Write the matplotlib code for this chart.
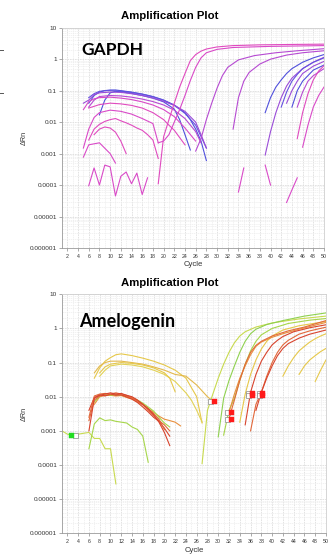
import matplotlib
matplotlib.use("Agg")
import matplotlib.pyplot as plt
from matplotlib.ticker import FixedLocator, NullFormatter
from matplotlib.lines import Line2D
from matplotlib import transforms

# ---------------- shared axis data ----------------
x_ticks = list(range(2, 51, 2))
x_minor = list(range(1, 51))
y_ticks = [1e-6, 1e-5, 1e-4, 1e-3, 1e-2, 1e-1, 1, 10]
y_tick_labels = ["0.000001", "0.00001", "0.0001", "0.001", "0.01", "0.1", "1", "10"]

# ---------------- GAPDH panel data ----------------
g_h1_c = [6, 7, 8, 9, 10, 11, 12, 14, 16, 18, 20, 22, 24, 25, 26, 27, 28]
g_h1_v = [0.04, 0.07, 0.09, 0.1, 0.105, 0.105, 0.1, 0.09, 0.078, 0.065, 0.05, 0.035, 0.02, 0.012, 0.006, 0.0025, 0.0006]
g_h2_c = [6, 7, 8, 9, 10, 12, 14, 16, 18, 20, 22, 24, 26, 27, 28]
g_h2_v = [0.06, 0.08, 0.095, 0.1, 0.1, 0.097, 0.088, 0.077, 0.064, 0.05, 0.034, 0.019, 0.008, 0.0035, 0.0015]
g_h3_c = [8, 9, 10, 11, 12, 14, 16, 18, 20, 22, 23, 24, 25]
g_h3_v = [0.017, 0.05, 0.085, 0.095, 0.092, 0.082, 0.07, 0.058, 0.044, 0.026, 0.012, 0.004, 0.0013]
g_h4_c = [5, 6, 7, 8, 10, 12, 14, 16, 18, 20, 22, 24, 26, 27, 28]
g_h4_v = [0.04, 0.05, 0.075, 0.085, 0.09, 0.088, 0.08, 0.07, 0.058, 0.046, 0.034, 0.022, 0.01, 0.004, 0.0015]
g_h5_c = [6, 7, 8, 10, 12, 14, 16, 18, 20, 22, 24, 26, 27]
g_h5_v = [0.03, 0.05, 0.065, 0.07, 0.068, 0.062, 0.054, 0.045, 0.035, 0.024, 0.013, 0.005, 0.0022]
g_m1_c = [5, 6, 7, 8, 10, 12, 14, 16, 18, 20, 22, 24, 26]
g_m1_v = [0.025, 0.045, 0.055, 0.06, 0.062, 0.058, 0.052, 0.044, 0.035, 0.025, 0.015, 0.0065, 0.0025]
g_m2_c = [6, 8, 10, 12, 14, 16, 18, 20, 21, 22, 24]
g_m2_v = [0.028, 0.036, 0.04, 0.038, 0.034, 0.028, 0.02, 0.012, 0.008, 0.0055, 0.0019]
g_m3_c = [5, 6, 7, 8, 10, 12, 14, 16, 18, 19]
g_m3_v = [0.0015, 0.006, 0.014, 0.02, 0.024, 0.022, 0.018, 0.013, 0.009, 0.0022]
g_m4_c = [6, 7, 8, 9, 10, 11, 12, 13, 14, 15, 16, 17, 18, 19]
g_m4_v = [0.0027, 0.006, 0.0085, 0.0105, 0.012, 0.013, 0.011, 0.0095, 0.008, 0.0065, 0.0055, 0.004, 0.0027, 0.0007]
g_m6_c = [5, 6, 8, 10, 11]
g_m6_v = [0.00077, 0.0019, 0.0022, 0.001, 0.0005]
g_m7_c = [7, 8, 9, 10, 11, 12, 13]
g_m7_v = [0.004, 0.006, 0.007, 0.0065, 0.0048, 0.0025, 0.001]
g_noise_c = [6, 7, 8, 9, 10, 11, 12, 13, 14, 15, 16, 17]
g_noise_v = [9.5e-5, 3.5e-4, 1e-4, 4.3e-4, 3.8e-4, 4.5e-5, 1.9e-4, 2.6e-4, 1.1e-4, 2.4e-4, 5e-5, 1.7e-4]

g_r1_c = [19, 20, 21, 22, 23, 24, 25, 26, 27, 28, 30, 33, 38, 45, 50]
g_r1_v = [1.1e-4, 0.0034, 0.012, 0.04, 0.13, 0.35, 0.9, 1.4, 1.8, 2.1, 2.45, 2.7, 2.85, 2.95, 3.0]
g_r2_c = [19, 20, 21, 22, 23, 24, 25, 26, 27, 28, 30, 33, 40, 50]
g_r2_v = [0.0022, 0.0025, 0.004, 0.01, 0.025, 0.07, 0.21, 0.55, 1.1, 1.6, 2.05, 2.35, 2.55, 2.7]
g_r3_c = [26, 27, 28, 29, 30, 31, 32, 34, 37, 41, 45, 50]
g_r3_v = [0.0012, 0.003, 0.012, 0.04, 0.12, 0.3, 0.55, 0.95, 1.3, 1.6, 1.85, 2.15]
g_r4_c = [33, 34, 35, 36, 38, 40, 43, 46, 50]
g_r4_v = [0.006, 0.06, 0.2, 0.38, 0.7, 1.0, 1.35, 1.6, 1.85]
g_s1_c = [34, 35]
g_s1_v = [6e-5, 3.5e-4]
g_s2_c = [39, 40]
g_s2_v = [4.3e-4, 1e-4]
g_s3_c = [43, 44, 45]
g_s3_v = [2.8e-5, 7e-5, 1.7e-4]
g_j_c = [39, 40, 41, 42, 43, 44, 46, 48, 50]
g_j_v = [0.0009, 0.005, 0.02, 0.06, 0.14, 0.25, 0.5, 0.8, 1.15]
g_e_c = [39, 40, 41, 42, 43, 44, 46, 48, 50]
g_e_v = [0.02, 0.06, 0.13, 0.22, 0.35, 0.5, 0.8, 1.1, 1.4]
g_f_c = [42, 43, 44, 45, 46, 48, 50]
g_f_v = [0.03, 0.09, 0.2, 0.33, 0.5, 0.8, 1.1]
g_g_c = [43, 44, 45, 46, 48, 50]
g_g_v = [0.04, 0.1, 0.2, 0.35, 0.6, 0.85]
g_hh_c = [44, 45, 46, 47, 48, 50]
g_hh_v = [0.03, 0.1, 0.2, 0.3, 0.45, 0.65]
g_i_c = [45, 46, 47, 48, 50]
g_i_v = [0.03, 0.09, 0.2, 0.3, 0.5]
g_k_c = [46, 47, 48, 49, 50]
g_k_v = [0.0016, 0.008, 0.03, 0.07, 0.13]
g_l_c = [45, 46, 47, 48, 49, 50]
g_l_v = [0.003, 0.02, 0.08, 0.22, 0.42, 0.62]

# ---------------- Amelogenin panel data ----------------
a_y1_c = [7, 8, 9, 10, 11, 12, 13, 14, 16, 18, 20, 22, 24, 26, 27]
a_y1_v = [0.035, 0.07, 0.11, 0.14, 0.17, 0.18, 0.17, 0.16, 0.135, 0.11, 0.085, 0.06, 0.035, 0.01, 0.0017]
a_y2_c = [7, 8, 9, 10, 12, 14, 16, 18, 20, 22, 24, 26, 28, 29]
a_y2_v = [0.05, 0.08, 0.1, 0.11, 0.11, 0.1, 0.09, 0.075, 0.06, 0.045, 0.04, 0.022, 0.01, 0.0075]
a_y3_c = [8, 9, 10, 12, 14, 16, 18, 20, 22, 24, 25, 26, 27]
a_y3_v = [0.04, 0.06, 0.08, 0.09, 0.085, 0.075, 0.06, 0.045, 0.028, 0.013, 0.008, 0.004, 0.0018]
a_y4_c = [8, 9, 10, 11, 12, 14, 16, 18, 20, 21, 22]
a_y4_v = [0.05, 0.075, 0.09, 0.095, 0.1, 0.095, 0.085, 0.07, 0.05, 0.035, 0.014]

a_o1_c = [6, 7, 8, 9, 10, 11, 12, 13, 14, 15, 16, 17, 18, 19, 20, 21]
a_o1_v = [0.001, 0.009, 0.011, 0.012, 0.013, 0.012, 0.0125, 0.011, 0.01, 0.008, 0.006, 0.0045, 0.003, 0.0018, 0.0009, 0.00037]
a_o2_c = [6, 7, 8, 9, 10, 11, 12, 13, 14, 15, 16, 17, 18, 19, 20, 21]
a_o2_v = [0.002, 0.008, 0.0105, 0.011, 0.0115, 0.012, 0.011, 0.0105, 0.009, 0.0075, 0.0058, 0.004, 0.0028, 0.002, 0.0015, 0.001]
a_o3_c = [6, 7, 8, 9, 10, 11, 12, 13, 14, 15, 16, 17, 18, 19, 20, 21]
a_o3_v = [0.004, 0.0095, 0.0115, 0.0105, 0.012, 0.011, 0.0115, 0.0098, 0.0085, 0.0068, 0.005, 0.0036, 0.0025, 0.0019, 0.0012, 0.0007]
a_o4_c = [7, 8, 9, 10, 11, 12, 13, 14, 15, 16, 17, 18, 19, 20, 21, 22, 23]
a_o4_v = [0.006, 0.01, 0.011, 0.011, 0.0105, 0.0108, 0.0095, 0.0085, 0.007, 0.0058, 0.0045, 0.0035, 0.0027, 0.0022, 0.002, 0.0018, 0.0014]
a_o5_c = [7, 8, 9, 10, 11, 12, 13, 14, 15, 16, 17, 18, 19, 20, 21]
a_o5_v = [0.007, 0.0105, 0.0115, 0.011, 0.0115, 0.011, 0.0105, 0.0095, 0.008, 0.0065, 0.005, 0.0038, 0.0025, 0.0017, 0.0013]
a_o6_c = [6, 7, 8, 9, 10, 11, 12, 13, 14, 15, 16, 17, 18, 19, 20]
a_o6_v = [0.0025, 0.0105, 0.012, 0.0125, 0.012, 0.013, 0.012, 0.011, 0.0095, 0.0078, 0.006, 0.0043, 0.0032, 0.0022, 0.0011]
a_glow_c = [6, 7, 8, 9, 10, 11, 12, 13, 14, 15, 16, 17]
a_glow_v = [0.0003, 0.0016, 0.0024, 0.002, 0.0021, 0.0019, 0.0018, 0.0017, 0.0013, 0.0011, 0.0007, 0.00012]
a_yglow_c = [1, 2, 3, 4, 5, 6, 7, 8, 9, 10, 11]
a_yglow_v = [0.001, 0.0008, 0.00075, 0.0008, 0.00085, 0.0009, 0.0006, 0.0006, 0.0003, 0.0003, 0.000028]

a_gr1_c = [30, 31, 32, 33, 34, 35, 36, 37, 39, 42, 46, 50]
a_gr1_v = [0.00067, 0.009, 0.03, 0.08, 0.2, 0.42, 0.7, 0.95, 1.3, 1.7, 2.3, 2.85]
a_ygr_c = [27, 28, 29, 30, 31, 32, 33, 34, 35, 37, 40, 45, 50]
a_ygr_v = [0.00011, 0.004, 0.012, 0.035, 0.09, 0.2, 0.38, 0.6, 0.8, 1.1, 1.45, 1.9, 2.3]
a_gr2_c = [31, 32, 33, 34, 35, 36, 37, 38, 40, 43, 47, 50]
a_gr2_v = [0.00075, 0.004, 0.009, 0.03, 0.09, 0.22, 0.42, 0.65, 1.0, 1.4, 1.75, 1.95]
a_or1_c = [32, 33, 34, 35, 36, 37, 38, 40, 42, 45, 50]
a_or1_v = [0.0035, 0.012, 0.035, 0.08, 0.17, 0.3, 0.4, 0.55, 0.7, 0.95, 1.5]
a_or2_c = [32, 33, 34, 35, 36, 37, 38, 40, 43, 46, 50]
a_or2_v = [0.0023, 0.008, 0.03, 0.09, 0.2, 0.32, 0.42, 0.6, 0.85, 1.1, 1.7]
a_rr1_c = [35, 36, 37, 38, 39, 40, 41, 42, 44, 47, 50]
a_rr1_v = [0.0015, 0.0135, 0.045, 0.11, 0.2, 0.33, 0.45, 0.58, 0.8, 1.05, 1.28]
a_rr2_c = [36, 37, 38, 39, 40, 41, 42, 43, 45, 47, 50]
a_rr2_v = [0.001, 0.006, 0.0135, 0.04, 0.1, 0.2, 0.33, 0.45, 0.68, 0.85, 1.09]
a_rr3_c = [37, 38, 39, 40, 41, 42, 43, 45, 47, 50]
a_rr3_v = [0.004, 0.0135, 0.035, 0.08, 0.16, 0.26, 0.36, 0.52, 0.68, 0.9]
a_yr1_c = [34, 35, 36, 37, 38, 39, 40, 42, 45, 50]
a_yr1_v = [0.0018, 0.012, 0.045, 0.12, 0.25, 0.42, 0.6, 0.9, 1.2, 1.6]
a_yl1_c = [42, 43, 44, 45, 46, 47, 48, 49, 50]
a_yl1_v = [0.04, 0.08, 0.14, 0.22, 0.3, 0.4, 0.5, 0.6, 0.7]
a_yl2_c = [45, 46, 47, 48, 49, 50]
a_yl2_v = [0.045, 0.08, 0.12, 0.16, 0.21, 0.26]
a_yl3_c = [48, 49, 50]
a_yl3_v = [0.028, 0.06, 0.12]

# threshold-crossing (Ct) markers
a_ct_c = [2.7, 29.2, 32.3, 32.3, 36.2, 36.2, 38.2, 38.2]
a_ct_v = [7.5e-4, 0.0075, 0.0035, 0.0023, 0.013, 0.0115, 0.013, 0.0115]
a_ct_col = ["#22dd22", "#ff1a1a", "#ff1a1a", "#ff1a1a", "#ff1a1a", "#ff1a1a", "#ff1a1a", "#ff1a1a"]

# ---------------- colours ----------------
BLUE = "#5050dc"
BLUE2 = "#6650e0"
PURPLE = "#9a4cd8"
VIOLET = "#b64ad2"
MAGENTA = "#d94ac8"
PINK = "#e04bbf"

YELLOW = "#e6c84a"
YELLOW2 = "#e3b84c"
YELLOW3 = "#e2d255"
YGREEN = "#c8da4e"
GREEN = "#8fd14f"
GREEN2 = "#a6d64a"
ORANGE = "#e8903e"
RORANGE = "#e2683a"
RED = "#d8442e"

gapdh_series = [
    (g_h1_c, g_h1_v, BLUE), (g_h2_c, g_h2_v, BLUE2), (g_h3_c, g_h3_v, BLUE),
    (g_h4_c, g_h4_v, PURPLE), (g_h5_c, g_h5_v, VIOLET), (g_m1_c, g_m1_v, MAGENTA),
    (g_m2_c, g_m2_v, PINK), (g_m3_c, g_m3_v, MAGENTA), (g_m4_c, g_m4_v, PINK),
    (g_m6_c, g_m6_v, MAGENTA), (g_m7_c, g_m7_v, PINK), (g_noise_c, g_noise_v, MAGENTA),
    (g_r1_c, g_r1_v, PINK), (g_r2_c, g_r2_v, MAGENTA), (g_r3_c, g_r3_v, VIOLET),
    (g_r4_c, g_r4_v, VIOLET), (g_s1_c, g_s1_v, MAGENTA), (g_s2_c, g_s2_v, MAGENTA),
    (g_s3_c, g_s3_v, MAGENTA), (g_j_c, g_j_v, PURPLE), (g_e_c, g_e_v, BLUE),
    (g_f_c, g_f_v, BLUE2), (g_g_c, g_g_v, PURPLE), (g_hh_c, g_hh_v, BLUE),
    (g_i_c, g_i_v, VIOLET), (g_k_c, g_k_v, MAGENTA), (g_l_c, g_l_v, PINK),
]

amel_series = [
    (a_y1_c, a_y1_v, YELLOW), (a_y2_c, a_y2_v, YELLOW2), (a_y3_c, a_y3_v, YELLOW3),
    (a_y4_c, a_y4_v, YELLOW), (a_yglow_c, a_yglow_v, YGREEN), (a_glow_c, a_glow_v, GREEN2),
    (a_o4_c, a_o4_v, ORANGE), (a_o5_c, a_o5_v, GREEN2), (a_o2_c, a_o2_v, RORANGE),
    (a_o3_c, a_o3_v, RED), (a_o6_c, a_o6_v, RORANGE), (a_o1_c, a_o1_v, RED),
    (a_ygr_c, a_ygr_v, YGREEN), (a_gr1_c, a_gr1_v, GREEN), (a_gr2_c, a_gr2_v, GREEN2),
    (a_yr1_c, a_yr1_v, YELLOW), (a_or1_c, a_or1_v, ORANGE), (a_or2_c, a_or2_v, RORANGE),
    (a_rr1_c, a_rr1_v, RED), (a_rr2_c, a_rr2_v, RORANGE), (a_rr3_c, a_rr3_v, RED),
    (a_yl1_c, a_yl1_v, YELLOW), (a_yl2_c, a_yl2_v, YELLOW), (a_yl3_c, a_yl3_v, YELLOW),
]

plt.rcParams["font.family"] = ["Liberation Sans", "DejaVu Sans"]

W, H = 334, 554
fig = plt.figure(figsize=(W / 100, H / 100), dpi=100)


def style_axes(ax):
    ax.set_yscale("log")
    ax.set_xlim(1, 50)
    ax.set_ylim(1e-6, 10)
    ax.xaxis.set_major_locator(FixedLocator(x_ticks))
    ax.xaxis.set_minor_locator(FixedLocator(x_minor))
    ax.yaxis.set_major_locator(FixedLocator(y_ticks))
    ax.set_yticklabels(y_tick_labels)
    minors = [m * 10.0 ** e for e in range(-6, 1) for m in range(2, 10)]
    ax.yaxis.set_minor_locator(FixedLocator(minors))
    ax.yaxis.set_minor_formatter(NullFormatter())
    ax.grid(True, which="major", color="#dedede", lw=0.6, ls=(0, (2, 1)))
    ax.grid(True, which="minor", color="#ededed", lw=0.5, ls=(0, (2, 1)))
    ax.set_axisbelow(True)
    for s in ax.spines.values():
        s.set_color("#cfcfcf")
        s.set_linewidth(0.6)
    ax.spines["left"].set_color("#9a9a9a")
    ax.spines["bottom"].set_color("#9a9a9a")
    ax.tick_params(axis="x", which="major", labelsize=3.8, length=2, width=0.5,
                   color="#888888", pad=2, labelcolor="#333333")
    ax.tick_params(axis="y", which="major", labelsize=4.6, length=2, width=0.5,
                   color="#888888", pad=1.5, labelcolor="#333333")
    ax.tick_params(which="minor", length=0)
    ax.set_xlabel("Cycle", fontsize=5.6, labelpad=2, color="#333333")
    ax.set_ylabel("\u0394Rn", fontsize=5.2, labelpad=1.5, color="#333333")


ax1 = fig.add_axes([62 / W, 1 - 248 / H, 262 / W, 220.3 / H])
style_axes(ax1)
for c, v, col in gapdh_series:
    ax1.plot(c, v, color=col, lw=0.8, solid_joinstyle="round")
ax1.text(0.075, 0.9, "GAPDH", transform=ax1.transAxes, fontsize=12.5,
         fontweight="bold", family=["Lato", "DejaVu Sans"], color="black",
         ha="left", va="center")

ax2 = fig.add_axes([62 / W, 1 - 533.3 / H, 264 / W, 239 / H])
style_axes(ax2)
for c, v, col in amel_series:
    ax2.plot(c, v, color=col, lw=0.8, solid_joinstyle="round")
ax2.text(0.063, 0.885, "Amelogenin", transform=ax2.transAxes, fontsize=13,
         fontweight="bold", family=["Lato", "DejaVu Sans"], color="black",
         ha="left", va="center")

# Ct markers: filled square plus a hollow grey square beside it
for c, v, col in zip(a_ct_c, a_ct_v, a_ct_col):
    side = 2.6 if col == "#22dd22" else -2.6
    off = transforms.offset_copy(ax2.transData, fig=fig, x=side, y=0, units="points")
    ax2.plot([c], [v], ls="none", marker="s", ms=3.6, mfc="white", mec="#888888",
             mew=0.5, transform=off, zorder=5)
    ax2.plot([c], [v], ls="none", marker="s", ms=3.6, mfc=col, mec=col, mew=0.3, zorder=6)

fig.text(170 / W, 1 - 16 / H, "Amplification Plot", ha="center", va="center",
         fontsize=8.2, fontweight="bold")
fig.text(170 / W, 1 - 283 / H, "Amplification Plot", ha="center", va="center",
         fontsize=8.2, fontweight="bold")

# small edge marks on the left border
for yy in (50, 93):
    fig.add_artist(Line2D([0, 2.5 / W], [1 - yy / H, 1 - yy / H], color="#555555", lw=0.7))

fig.savefig("out.png", dpi=100)
